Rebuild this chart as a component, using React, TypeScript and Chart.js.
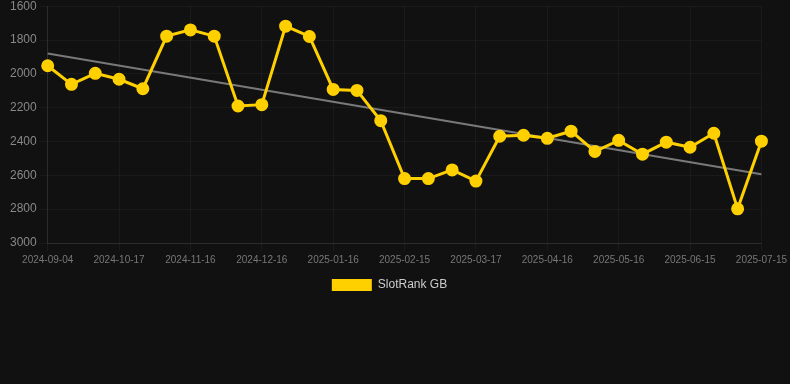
import React, { useEffect, useRef } from "react";
import { Chart, registerables } from "chart.js";

Chart.register(...registerables);

const dates: string[] = [
  "2024-09-04", "2024-09-18", "2024-10-02", "2024-10-17", "2024-10-27", "2024-11-06",
  "2024-11-16", "2024-11-26", "2024-12-06", "2024-12-16", "2024-12-26", "2025-01-06",
  "2025-01-16", "2025-01-26", "2025-02-05", "2025-02-15", "2025-02-25", "2025-03-07",
  "2025-03-17", "2025-03-27", "2025-04-06", "2025-04-16", "2025-04-26", "2025-05-06",
  "2025-05-16", "2025-05-26", "2025-06-05", "2025-06-15", "2025-06-25", "2025-07-05",
  "2025-07-15",
];

const rankGB: number[] = [
  1952, 2062, 1997, 2032, 2088, 1777, 1740, 1777, 2190, 2182, 1718, 1779, 2092, 2098,
  2277, 2619, 2619, 2568, 2634, 2369, 2363, 2381, 2339, 2459, 2393, 2475, 2404, 2434,
  2351, 2798, 2398,
];

// trend line endpoints
const trendStart = 1879;
const trendEnd = 2593;
const trend: (number | null)[] = dates.map((_, i) =>
  i === 0 ? trendStart : i === dates.length - 1 ? trendEnd : null
);

const FONT = "'Liberation Sans', Arial, Helvetica, sans-serif";
const GOLD = "#FFD000";

const legendShift = {
  id: "legendShift",
  afterLayout(chart: any) {
    if (chart.legend) {
      chart.legend.right -= 18;
    }
  },
};

export default function App() {
  const ref = useRef<HTMLCanvasElement | null>(null);

  useEffect(() => {
    document.body.style.margin = "0";
    document.body.style.background = "#111111";
    if (!ref.current) return;
    const chart = new Chart(ref.current, {
      type: "line",
      data: {
        labels: dates,
        datasets: [
          {
            label: "SlotRank GB",
            data: rankGB,
            borderColor: GOLD,
            backgroundColor: GOLD,
            borderWidth: 3,
            pointRadius: 5,
            pointHoverRadius: 5,
            pointBackgroundColor: GOLD,
            pointBorderColor: GOLD,
            tension: 0,
            order: 1,
          },
          {
            label: "trend",
            data: trend,
            borderColor: "rgba(140,140,140,0.85)",
            backgroundColor: "rgba(140,140,140,0.85)",
            borderWidth: 2,
            pointRadius: 0,
            spanGaps: true,
            order: 2,
          },
        ],
      },
      plugins: [legendShift],
      options: {
        animation: false,
        responsive: true,
        maintainAspectRatio: false,
        layout: { autoPadding: false, padding: { left: 7, top: 0, right: 0, bottom: 0 } },
        plugins: {
          legend: {
            position: "bottom",
            labels: {
              color: "#cccccc",
              font: { family: FONT, size: 12 },
              boxWidth: 40,
              boxHeight: 12,
              generateLabels: (c) => {
                const items = Chart.defaults.plugins.legend.labels.generateLabels(c);
                return items
                  .filter((it) => it.text !== "trend")
                  .map((it) => ({ ...it, lineWidth: 0 }));
              },
            },
          },
          tooltip: { enabled: false },
        },
        scales: {
          x: {
            grid: { color: "rgba(255,255,255,0.04)", tickLength: 8 },
            border: { color: "rgba(255,255,255,0.08)" },
            ticks: {
              autoSkip: false,
              maxRotation: 0,
              color: "#777777",
              font: { family: FONT, size: 10 },
              callback: function (value, index) {
                return index % 3 === 0 ? dates[index] : null;
              },
            },
          },
          y: {
            reverse: true,
            min: 1600,
            max: 3000,
            grid: { color: "rgba(255,255,255,0.04)", tickLength: 8 },
            border: { color: "rgba(255,255,255,0.08)" },
            ticks: {
              stepSize: 200,
              color: "#888888",
              font: { family: FONT, size: 12 },
              callback: (v) => String(v),
            },
          },
        },
      },
    });
    return () => chart.destroy();
  }, []);

  return (
    <div style={{ width: 790, height: 384, background: "#111111", overflow: "hidden" }}>
      <div style={{ width: 790, height: 305, marginTop: -4, position: "relative" }}>
        <canvas ref={ref} />
      </div>
    </div>
  );
}
